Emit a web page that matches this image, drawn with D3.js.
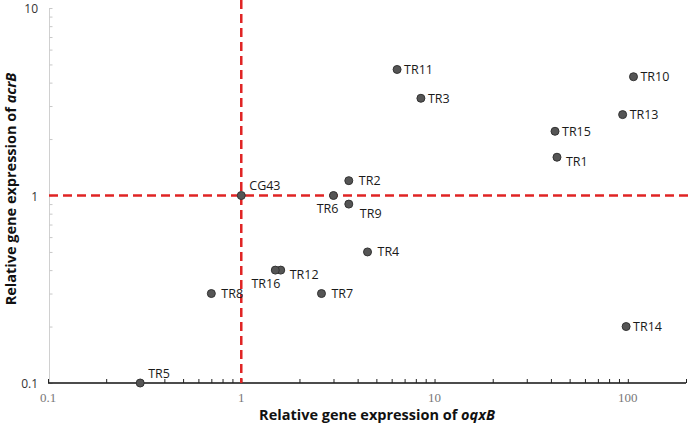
<!DOCTYPE html>
<html><head><meta charset="utf-8">
<script src="https://cdn.jsdelivr.net/npm/d3@7"></script>
<style>body{margin:0;background:#fff}svg{display:block}</style>
</head><body>
<svg id="c" width="693" height="428"></svg>
<script>
// ---- data ----
const isolates = ["CG43","TR1","TR2","TR3","TR4","TR5","TR6","TR7","TR8","TR9","TR10","TR11","TR12","TR13","TR14","TR15","TR16"];
const oqxB     = [1, 43, 3.6, 8.5, 4.5, 0.3, 3.0, 2.6, 0.7, 3.6, 107, 6.4, 1.6, 94, 98, 42, 1.5];
const acrB     = [1, 1.6, 1.2, 3.3, 0.5, 0.1, 1.0, 0.3, 0.3, 0.9, 4.3, 4.7, 0.4, 2.7, 0.2, 2.2, 0.4];
const labelSide= ["tr","rb","rw","r","rw","tr","bl","rw","rw","br","r","r","rb","r","r","r","bl"];
const xTickLabels = ["0.1","1","10","100"];
const yTickLabels = ["0.1","1","10"];
const xMajor = [0.1, 1, 10, 100];
const yMajor = [0.1, 1, 10];
const cutoff = 1;

const svg = d3.select("#c");
const x = d3.scaleLog().domain([0.1, 200]).range([48, 686]);
const y = d3.scaleLog().domain([0.1, 10]).range([383, 8]);

const minorX = [];
[0.1,1,10,100].forEach(d=>{for(let k=1;k<=9;k++){const v=d*k; if(v<=200) minorX.push(v);}});
minorX.push(200);
const minorY = [];
[0.1,1].forEach(d=>{for(let k=1;k<=9;k++) minorY.push(d*k);});
minorY.push(10);

// y axis (light gray, ticks inside)
const yAxis = d3.axisRight(y).tickValues(minorY).tickSize(3).tickFormat("");
const gy = svg.append("g").attr("transform",`translate(${x(0.1)+1},0)`).call(yAxis);
gy.select(".domain").attr("stroke","#d0d0d0").attr("stroke-width",1).attr("d",`M0.5,${y(10)}V${y(0.1)}`);
gy.selectAll(".tick line").attr("stroke","#c8c8c8").attr("transform","translate(0.5,0)");
svg.append("g").selectAll("text").data(yMajor).join("text")
  .attr("x",38).attr("y",d=>y(d)).attr("dy","0.42em").attr("text-anchor","end")
  .attr("font-family","Open Sans, sans-serif").attr("font-size",12).attr("fill","#333")
  .text((d,i)=>yTickLabels[i]);

// x axis (black, ticks up)
const xAxis = d3.axisTop(x).tickValues(minorX).tickSize(4).tickFormat("");
const gx = svg.append("g").attr("transform",`translate(0,${y(0.1)})`).call(xAxis);
gx.select(".domain").attr("stroke","#111").attr("stroke-width",1.5).attr("d",`M${x(0.1)},0H${x(200)}`);
gx.selectAll(".tick line").attr("stroke","#222");
svg.append("g").selectAll("text").data(xMajor).join("text")
  .attr("x",d=>x(d)).attr("y",402).attr("text-anchor","middle")
  .attr("font-family","Liberation Serif, serif").attr("font-size",13).attr("fill","#777")
  .text((d,i)=>xTickLabels[i]);

// cutoff dashed lines
svg.append("line").attr("x1",x(cutoff)).attr("x2",x(cutoff)).attr("y1",0).attr("y2",y(0.1))
  .attr("stroke","#e02424").attr("stroke-width",2.5).attr("stroke-dasharray","9,5");
svg.append("line").attr("x1",x(0.1)+1).attr("x2",693).attr("y1",y(cutoff)).attr("y2",y(cutoff))
  .attr("stroke","#e02424").attr("stroke-width",2.5).attr("stroke-dasharray","9,5");

// points
const data = isolates.map((n,i)=>({n, xv:oqxB[i], yv:acrB[i], side:labelSide[i]}));
svg.append("g").selectAll("circle").data(data).join("circle")
  .attr("cx",d=>x(d.xv)).attr("cy",d=>y(d.yv)).attr("r",4)
  .attr("fill","#555").attr("stroke","#333").attr("stroke-width",1);

const place = {r:[7,0,"start"], rw:[10,0,"start"], tr:[8,-10,"start"], rb:[9,4,"start"], br:[11,9,"start"], bl:[5,13,"end"]};
svg.append("g").selectAll("text").data(data).join("text")
  .attr("x",d=>x(d.xv)+place[d.side][0]).attr("y",d=>y(d.yv)+place[d.side][1])
  .attr("dy","0.36em").attr("text-anchor",d=>place[d.side][2])
  .attr("font-family","Open Sans, sans-serif").attr("font-size",12.5).attr("fill","#1a1a1a")
  .text(d=>d.n);

// axis titles
const xt = svg.append("text").attr("x",377).attr("y",420).attr("text-anchor","middle")
  .attr("font-family","Open Sans, sans-serif").attr("font-size",14.5).attr("font-weight","bold").attr("fill","#111");
xt.append("tspan").text("Relative gene expression of ");
xt.append("tspan").attr("font-style","italic").text("oqxB");
const yt = svg.append("text").attr("transform","translate(16,189) rotate(-90)").attr("text-anchor","middle")
  .attr("font-family","Open Sans, sans-serif").attr("font-size",14.5).attr("font-weight","bold").attr("fill","#111");
yt.append("tspan").text("Relative gene expression of ");
yt.append("tspan").attr("font-style","italic").text("acrB");
</script>
</body></html>
